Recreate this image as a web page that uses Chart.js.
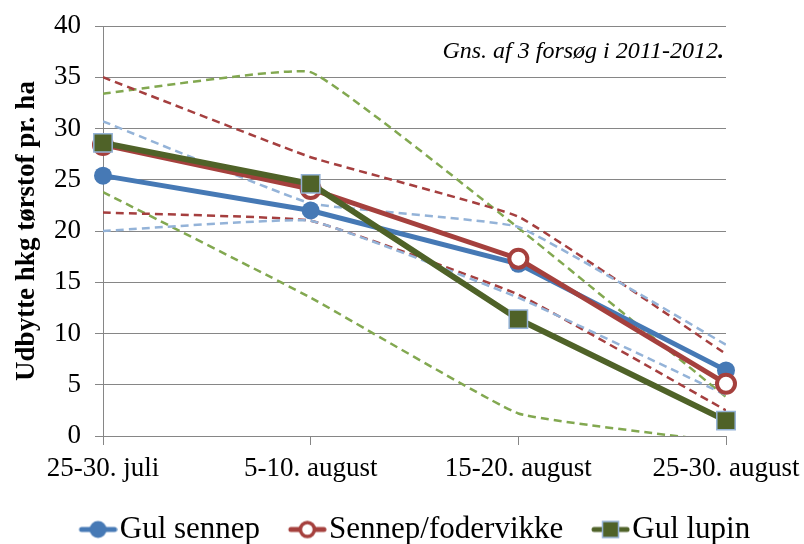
<!DOCTYPE html>
<html>
<head>
<meta charset="utf-8">
<script src="https://cdn.jsdelivr.net/npm/chart.js@4.4.0/dist/chart.umd.min.js"></script>
<style>
  html, body { margin: 0; padding: 0; background: #fff; }
  #wrap { width: 804px; height: 544px; position: relative; }
</style>
</head>
<body>
<div id="wrap"><canvas id="yield-chart" width="804" height="544"></canvas></div>
<script>
// Harvest periods (x axis)
const periods = ['25-30. juli', '5-10. august', '15-20. august', '25-30. august'];

// Mean yields, hkg dry matter per ha
const gulSennep = [25.4, 22.0, 16.8, 6.4];
const sennepFodervikke = [28.4, 24.1, 17.3, 5.1];
const gulLupin = [28.6, 24.6, 11.4, 1.5];

// Spread between trials (dashed lines), upper and lower
const gulSennepHigh = [30.7, 22.7, 20.4, 8.9];
const gulSennepLow = [20.0, 21.0, 13.5, 4.0];
const sennepHigh = [35.0, 27.2, 21.4, 8.0];
const sennepLow = [21.8, 21.0, 13.8, 2.5];
const lupinHigh = [33.4, 35.5, 20.3, 3.8];
const lupinLow = [23.8, 13.5, 2.2, -0.6];

const yTicks = [0, 5, 10, 15, 20, 25, 30, 35, 40];

const FONT = '"Liberation Serif", "Times New Roman", serif';
const GRID = '#868686';

// Legend icon: short line with the series marker in the middle.
// The canvas is wider than the legend box so the icon sits right next to the text.
function legendIcon(color, marker) {
  const c = document.createElement('canvas');
  c.width = 72; c.height = 22;
  const g = c.getContext('2d');
  const cx = 52.5;
  g.strokeStyle = color;
  g.lineWidth = 5;
  g.lineCap = 'round';
  g.beginPath(); g.moveTo(36, 11); g.lineTo(69, 11); g.stroke();
  if (marker === 'dot') {
    g.fillStyle = color;
    g.beginPath(); g.arc(cx, 11, 8.5, 0, Math.PI * 2); g.fill();
  } else if (marker === 'ring') {
    g.fillStyle = '#fff';
    g.lineWidth = 3.5;
    g.beginPath(); g.arc(cx, 11, 7, 0, Math.PI * 2); g.fill(); g.stroke();
  } else {
    g.fillStyle = color;
    g.fillRect(cx - 8, 3, 16, 16);
    g.strokeStyle = '#95B3D7';
    g.lineWidth = 1.5;
    g.strokeRect(cx - 8, 3, 16, 16);
  }
  return c;
}

function dashed(data, color) {
  return {
    label: '',
    data: data,
    borderColor: color,
    borderWidth: 2.5,
    borderDash: [8, 5],
    pointRadius: 0,
    pointHoverRadius: 0,
    tension: 0.1,
    fill: false,
    order: 5,
    clip: 0
  };
}

const icons = {
  blue: legendIcon('#4679B5', 'dot'),
  red: legendIcon('#A5403D', 'ring'),
  green: legendIcon('#4F6228', 'square')
};

const ctx = document.getElementById('yield-chart');

new Chart(ctx, {
  type: 'line',
  data: {
    labels: periods,
    datasets: [
      {
        label: 'Gul sennep',
        data: gulSennep,
        borderColor: '#4679B5',
        backgroundColor: '#4679B5',
        borderWidth: 5,
        pointStyle: 'circle',
        pointRadius: 9,
        pointBorderWidth: 0,
        tension: 0,
        order: 2,
        legendIcon: icons.blue
      },
      {
        label: 'Sennep/fodervikke',
        data: sennepFodervikke,
        borderColor: '#A5403D',
        backgroundColor: '#A5403D',
        pointBackgroundColor: '#ffffff',
        pointBorderColor: '#A5403D',
        borderWidth: 5,
        pointStyle: 'circle',
        pointRadius: 9,
        pointBorderWidth: 4,
        tension: 0,
        order: 1,
        legendIcon: icons.red
      },
      {
        label: 'Gul lupin',
        data: gulLupin,
        borderColor: '#4F6228',
        backgroundColor: '#4F6228',
        pointBackgroundColor: '#4F6228',
        pointBorderColor: '#95B3D7',
        borderWidth: 6,
        pointStyle: 'rect',
        pointRadius: 13,
        pointBorderWidth: 1.5,
        tension: 0,
        order: 0,
        legendIcon: icons.green
      },
      dashed(gulSennepHigh, '#94B3D8'),
      dashed(gulSennepLow, '#94B3D8'),
      dashed(sennepHigh, '#A53F3F'),
      dashed(sennepLow, '#A53F3F'),
      dashed(lupinHigh, '#82A850'),
      dashed(lupinLow, '#82A850')
    ]
  },
  options: {
    responsive: false,
    animation: false,
    layout: {
      padding: { top: 26, right: 0, bottom: 0, left: 11 }
    },
    plugins: {
      tooltip: { enabled: false },
      legend: {
        display: true,
        position: 'bottom',
        labels: {
          font: { family: FONT, size: 31 },
          color: '#000',
          usePointStyle: true,
          pointStyleWidth: 45.5,
          padding: 8,
          filter: item => item.text !== '',
          sort: (a, b) => a.datasetIndex - b.datasetIndex,
          generateLabels: chart => chart.data.datasets.map((ds, i) => ({
            text: ds.label,
            datasetIndex: i,
            pointStyle: ds.legendIcon,
            fillStyle: ds.borderColor,
            strokeStyle: ds.borderColor,
            lineWidth: 0,
            hidden: false,
            fontColor: '#000'
          }))
        }
      }
    },
    scales: {
      x: {
        offset: false,
        afterFit: scale => {
          scale.height = 59;
          scale.paddingLeft = 0;
          scale.paddingRight = 78;
        },
        grid: {
          drawOnChartArea: false,
          drawTicks: true,
          tickLength: 9,
          color: GRID
        },
        border: { color: GRID, width: 1 },
        ticks: {
          font: { family: FONT, size: 27 },
          color: '#000',
          maxRotation: 0,
          autoSkip: false,
          padding: 8
        }
      },
      y: {
        min: 0,
        max: 40,
        afterBuildTicks: scale => { scale.ticks = yTicks.map(v => ({ value: v })); },
        afterFit: scale => {
          scale.width = 92;
          scale.paddingTop = 0;
          scale.paddingBottom = 0;
        },
        grid: {
          color: GRID,
          drawTicks: true,
          tickLength: 8
        },
        border: { color: GRID, width: 1 },
        ticks: {
          font: { family: FONT, size: 27 },
          color: '#000',
          padding: 14
        },
        title: {
          display: true,
          text: 'Udbytte hkg tørstof pr. ha',
          font: { family: FONT, size: 27, weight: 'bold' },
          color: '#000',
          padding: 0
        }
      }
    }
  },
  plugins: [{
    id: 'legendNudge',
    afterLayout: function(chart) {
      // move the legend row a little lower, as in the original
      const lg = chart.legend;
      if (lg) {
        lg.top += 11;
        lg.bottom += 11;
        lg.left -= 3;
        lg.right -= 3;
      }
    }
  }, {
    id: 'noteText',
    afterDraw: function(chart) {
      // Note in the upper right corner, period in bold
      const c = chart.ctx;
      c.save();
      c.textBaseline = 'alphabetic';
      c.textAlign = 'right';
      c.fillStyle = '#000';
      c.font = 'bold italic 24px ' + FONT;
      const dotW = c.measureText('.').width;
      c.fillText('.', 724, 58);
      c.font = 'italic 24px ' + FONT;
      c.fillText('Gns. af 3 forsøg i 2011-2012', 724 - dotW, 58);
      c.restore();
    }
  }]
});
</script>
</body>
</html>
